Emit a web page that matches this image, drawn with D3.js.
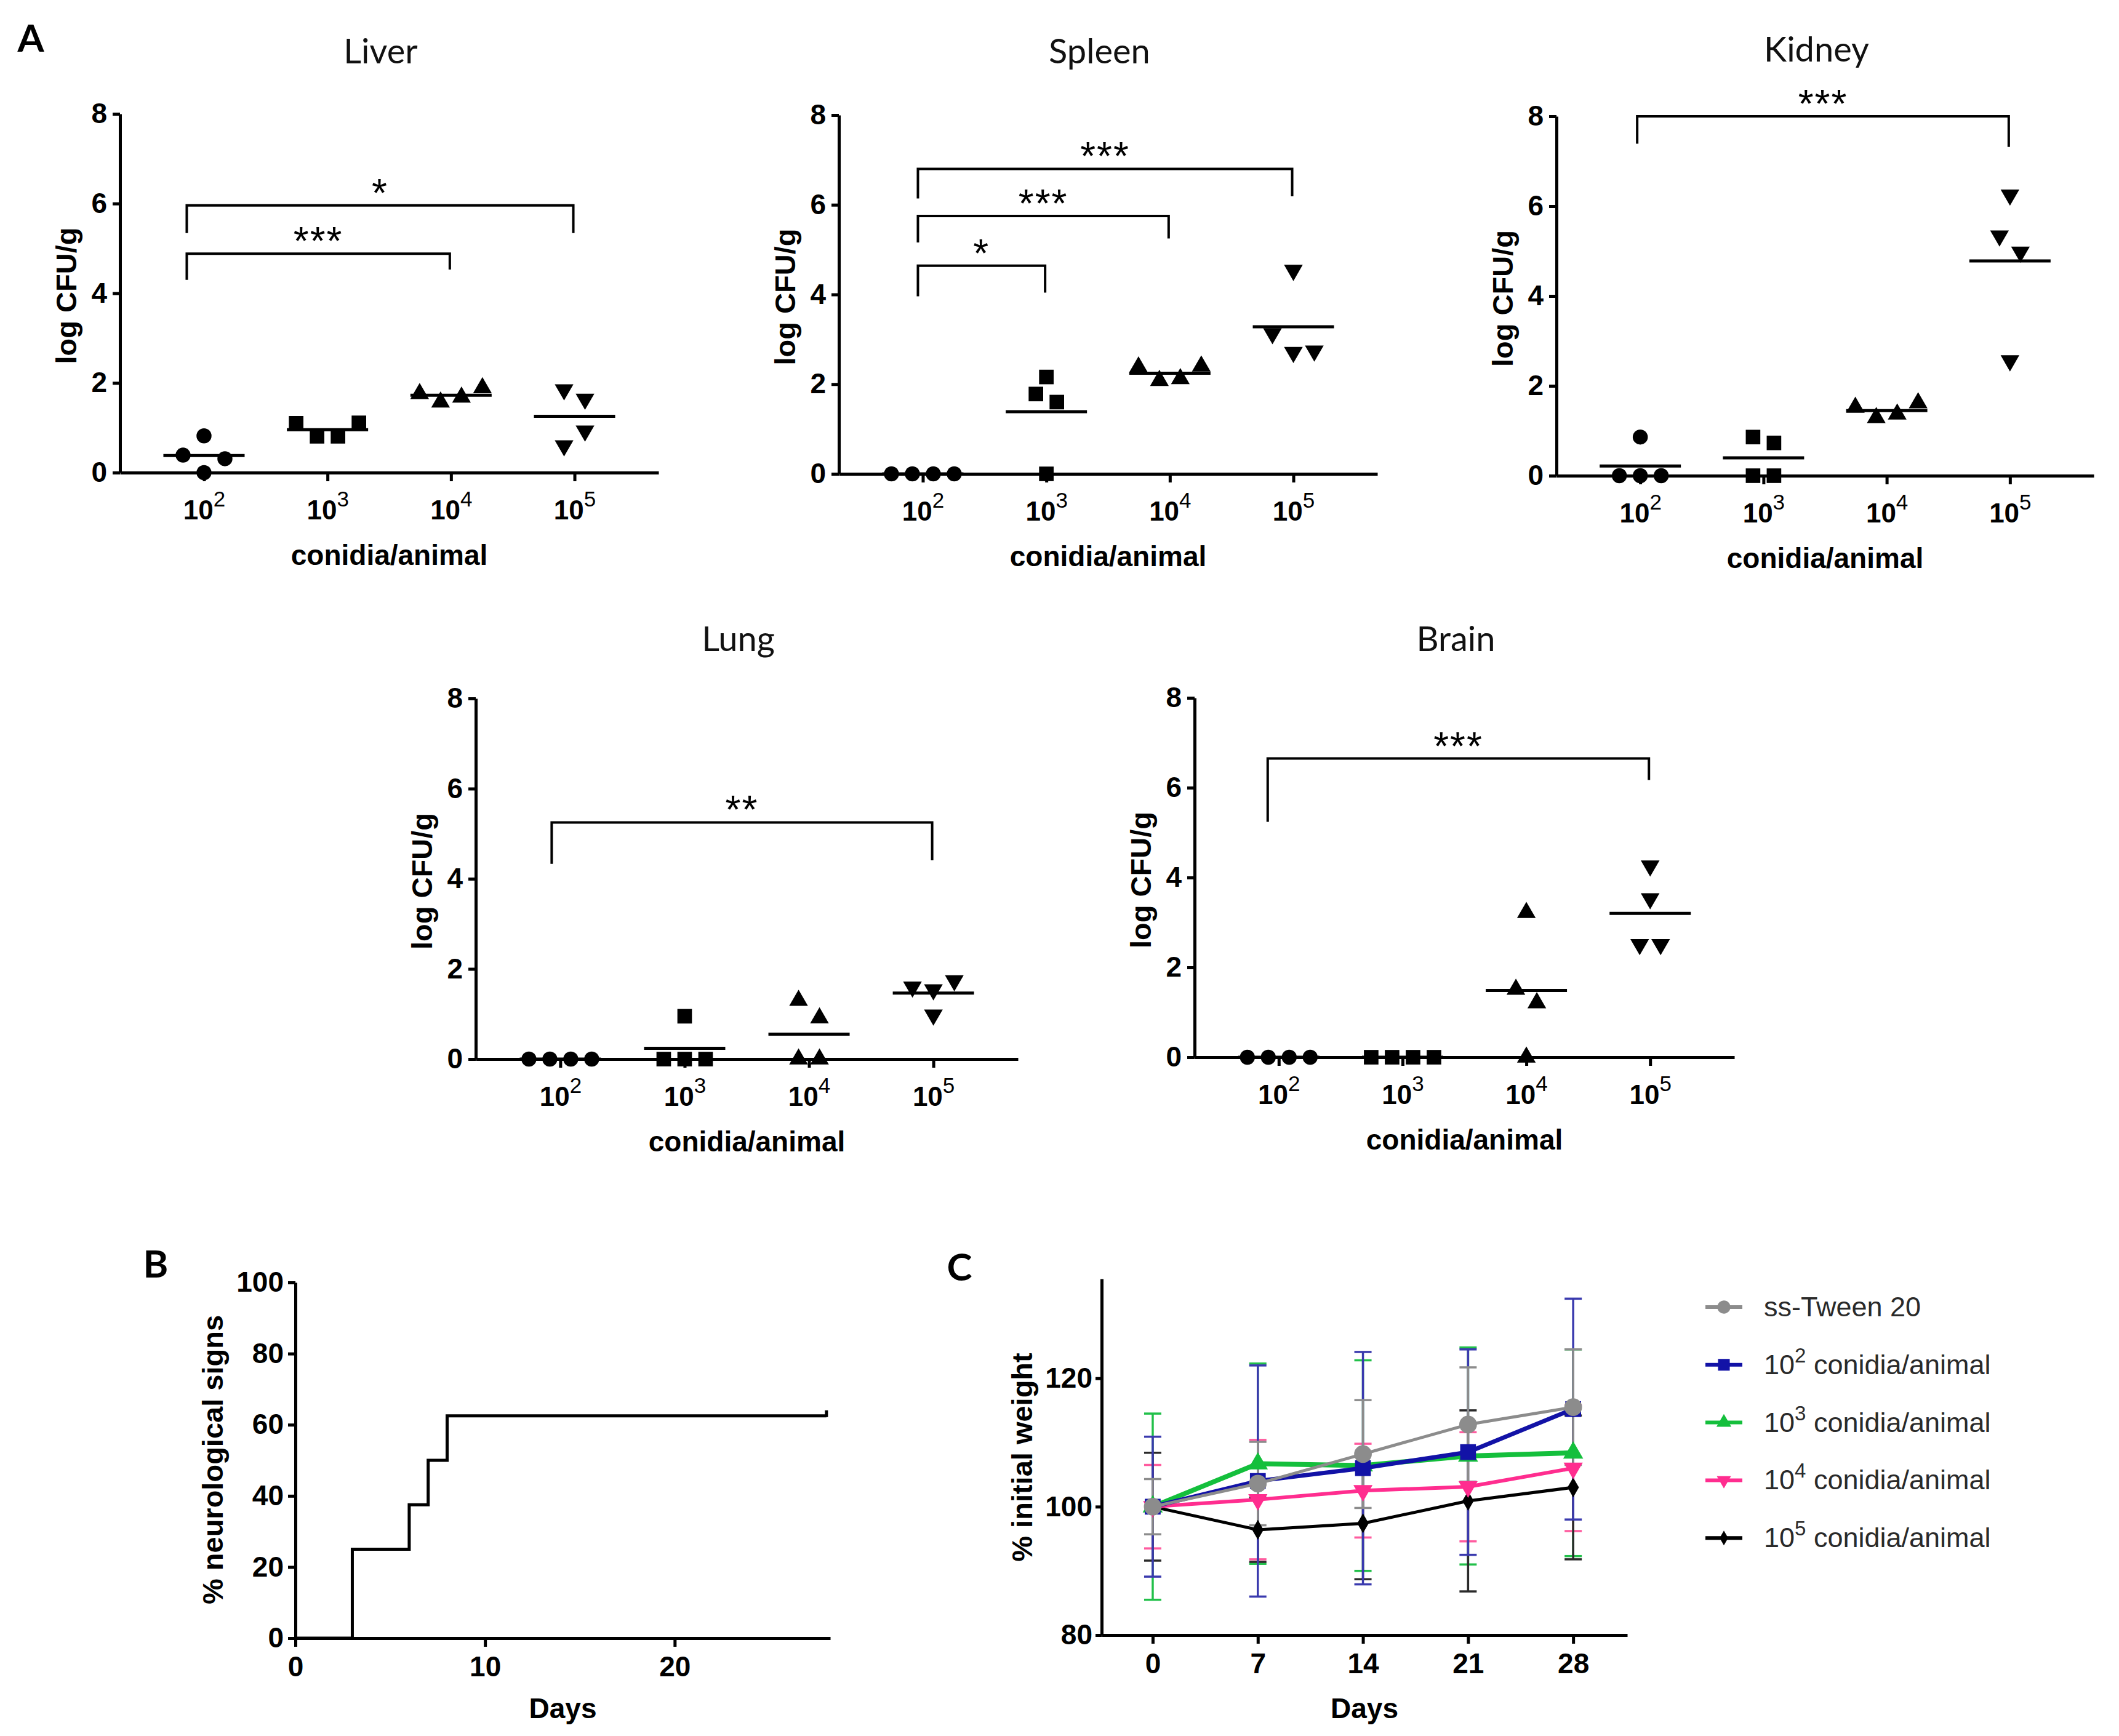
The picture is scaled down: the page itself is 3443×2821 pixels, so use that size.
<!DOCTYPE html>
<html><head><meta charset="utf-8">
<script src="https://cdn.jsdelivr.net/npm/d3@7"></script>
<style>
html,body{margin:0;padding:0;background:#fff;}
svg{display:block;}
</style></head>
<body>
<svg id="fig" width="3443" height="2821"></svg>
<script>
// ================= DATA =================
const doseExponents = [2, 3, 4, 5];
const cfuTicks = [0, 2, 4, 6, 8];
const organTitles = ["Liver", "Spleen", "Kidney", "Lung", "Brain"];

// log CFU/g per animal, one inner array per dose group (10^2 .. 10^5)
const liverValues  = [[0.82, 0.39, 0.31, 0.00], [1.10, 0.81, 0.81, 1.11], [1.76, 1.57, 1.68, 1.89], [1.85, 1.64, 0.93, 0.60]];
const spleenValues = [[0, 0, 0, 0], [1.78, 2.16, 1.60, 0.00], [2.38, 2.08, 2.12, 2.40], [4.54, 3.13, 2.71, 2.74]];
const kidneyValues = [[0.86, 0, 0, 0], [0.86, 0.73, 0, 0], [1.52, 1.29, 1.37, 1.62], [6.25, 5.34, 4.98, 2.56]];
const lungValues   = [[0, 0, 0, 0], [0.95, 0, 0, 0], [1.30, 0.91, 0, 0], [1.60, 1.54, 1.74, 0.98]];
const brainValues  = [[0, 0, 0, 0], [0, 0, 0, 0], [3.22, 1.51, 1.21, 0], [4.26, 3.53, 2.51, 2.51]];

// column-scatter dodge slot of each point (in marker widths)
const liverSlots  = [[0, -1, 1, 0], [-1.5, -0.5, 0.5, 1.5], [-1.5, -0.5, 0.5, 1.5], [-0.5, 0.5, 0.5, -0.5]];
const spleenSlots = [[-1.5, -0.5, 0.5, 1.5], [-0.5, 0, 0.5, 0], [-1.5, -0.5, 0.5, 1.5], [0, -1, 0, 1]];
const kidneySlots = [[0, -1, 0, 1], [-0.5, 0.5, -0.5, 0.5], [-1.5, -0.5, 0.5, 1.5], [0, -0.5, 0.5, 0]];
const lungSlots   = [[-1.5, -0.5, 0.5, 1.5], [0, -1, 0, 1], [-0.5, 0.5, -0.5, 0.5], [-1, 0, 1, 0]];
const brainSlots  = [[-1.5, -0.5, 0.5, 1.5], [-1.5, -0.5, 0.5, 1.5], [0, -0.5, 0.5, 0], [0, 0, -0.5, 0.5]];

// significance brackets: group indices, bracket level, leg ends (log CFU/g units), label
const liverSig  = [{from: 0, to: 3, level: 5.96, legFrom: 5.34, legTo: 5.34, label: "*"},
                   {from: 0, to: 2, level: 4.88, legFrom: 4.30, legTo: 4.53, label: "***"}];
const spleenSig = [{from: 0, to: 1, level: 4.64, legFrom: 3.96, legTo: 4.04, label: "*"},
                   {from: 0, to: 2, level: 5.75, legFrom: 5.16, legTo: 5.25, label: "***"},
                   {from: 0, to: 3, level: 6.80, legFrom: 6.14, legTo: 6.19, label: "***"}];
const kidneySig = [{from: 0, to: 3, level: 8.00, legFrom: 7.39, legTo: 7.32, label: "***"}];
const lungSig   = [{from: 0, to: 3, level: 5.25, legFrom: 4.33, legTo: 4.41, label: "**"}];
const brainSig  = [{from: 0, to: 3, level: 6.65, legFrom: 5.24, legTo: 6.17, label: "***"}];

// Panel B: cumulative % with neurological signs
const neuroDays = [0, 3, 6, 7, 8, 28];
const neuroPercent = [0, 25, 37.5, 50, 62.5, 62.5];
const neuroYTicks = [0, 20, 40, 60, 80, 100];
const neuroXTicks = [0, 10, 20];

// Panel C: % initial weight (mean, SD)
const weightDays = [0, 7, 14, 21, 28];
const weightYTicks = [80, 100, 120];
const legendLabels = ["ss-Tween 20", "10^2 conidia/animal", "10^3 conidia/animal", "10^4 conidia/animal", "10^5 conidia/animal"];
const tweenMean = [100, 103.6, 108.2, 112.8, 115.5];
const tweenSD   = [4.3, 6.5, 8.4, 8.9, 9.0];
const dose2Mean = [100, 104.0, 106.0, 108.5, 115.2];
const dose2SD   = [10.9, 18.0, 18.1, 16.0, 17.2];
const dose3Mean = [100, 106.7, 106.4, 107.9, 108.4];
const dose3SD   = [14.5, 15.6, 16.4, 16.9, 16.1];
const dose4Mean = [100, 101.1, 102.5, 103.1, 106.0];
const dose4SD   = [6.5, 9.3, 7.3, 8.5, 9.8];
const dose5Mean = [100, 96.4, 97.4, 100.9, 103.0];
const dose5SD   = [8.4, 5.0, 8.7, 14.1, 11.2];

// ================= DRAWING =================
const svg = d3.select("#fig");
const F_ARIAL = "'Liberation Sans', Arial, Helvetica, sans-serif";
const F_CAL = "Lato, 'Open Sans', sans-serif";

function styleAxis(g, fs) {
  g.select(".domain").attr("stroke", "#000").attr("stroke-width", 5);
  g.selectAll(".tick line").attr("stroke", "#000").attr("stroke-width", 5);
  g.selectAll(".tick text").attr("font-family", F_ARIAL).attr("font-weight", "bold")
    .attr("font-size", fs || 46).attr("fill", "#000");
}

function addSupLabel(textSel, base, sup, rest, supSize, supShift, supWeight) {
  textSel.append("tspan").text(base);
  textSel.append("tspan").attr("dy", -supShift).attr("font-size", supSize)
    .attr("font-weight", supWeight || "normal").text(sup);
  if (rest) textSel.append("tspan").attr("dy", supShift).text(rest);
}

function panelLetter(t, x, y) {
  svg.append("text").attr("x", x).attr("y", y).attr("text-anchor", "middle")
    .attr("dominant-baseline", "central").attr("font-family", F_CAL)
    .attr("font-weight", "bold").attr("font-size", 62).attr("fill", "#000").text(t);
}

function yLabel(t, x, y) {
  svg.append("text").attr("transform", `translate(${x},${y}) rotate(-90)`)
    .attr("text-anchor", "middle").attr("dominant-baseline", "central")
    .attr("font-family", F_ARIAL).attr("font-weight", "bold").attr("font-size", 47)
    .attr("fill", "#000").text(t);
}
function xLabel(t, x, y) {
  svg.append("text").attr("x", x).attr("y", y)
    .attr("text-anchor", "middle").attr("dominant-baseline", "central")
    .attr("font-family", F_ARIAL).attr("font-weight", "bold").attr("font-size", 46)
    .attr("fill", "#000").text(t);
}

// ---------- Panel A ----------
const groupShapes = [
  {type: d3.symbolCircle, size: 470, rot: 0},
  {type: d3.symbolSquare, size: 560, rot: 0},
  {type: d3.symbolTriangle, size: 400, rot: 0},
  {type: d3.symbolTriangle, size: 400, rot: 180}
];

const organs = [
  {title: organTitles[0], values: liverValues,  slots: liverSlots,  sig: liverSig,  frame: {x: 195,  y: 185,  w: 875, h: 583}, titleY: 81,   bl: -28},
  {title: organTitles[1], values: spleenValues, slots: spleenSlots, sig: spleenSig, frame: {x: 1363, y: 187,  w: 875, h: 583}, titleY: 81,   bl: -8},
  {title: organTitles[2], values: kidneyValues, slots: kidneySlots, sig: kidneySig, frame: {x: 2529, y: 189,  w: 873, h: 584}, titleY: 78,   bl: -5},
  {title: organTitles[3], values: lungValues,   slots: lungSlots,   sig: lungSig,   frame: {x: 773,  y: 1135, w: 881, h: 586}, titleY: 1036, bl: -14},
  {title: organTitles[4], values: brainValues,  slots: brainSlots,  sig: brainSig,  frame: {x: 1941, y: 1134, w: 877, h: 584}, titleY: 1036, bl: -18}
];

organs.forEach(cfg => {
  const f = cfg.frame;
  const x = d3.scalePoint().domain(doseExponents).range([f.x, f.x + f.w]).padding(0.68);
  const y = d3.scaleLinear().domain([0, 8]).range([f.y + f.h, f.y]);
  const dodge = d3.scaleLinear().domain([0, 1]).range([0, 34]);
  const g = svg.append("g");

  // title
  g.append("text").attr("x", f.x + f.w / 2 - 14).attr("y", cfg.titleY)
    .attr("text-anchor", "middle").attr("dominant-baseline", "central")
    .attr("font-family", F_CAL).attr("font-size", 56).attr("fill", "#111").text(cfg.title);

  // axes
  const gy = g.append("g").attr("transform", `translate(${f.x},0)`)
    .call(d3.axisLeft(y).tickValues(cfuTicks).tickSize(12).tickSizeOuter(0).tickPadding(9));
  styleAxis(gy, 46);
  const gx = g.append("g").attr("transform", `translate(0,${f.y + f.h})`)
    .call(d3.axisBottom(x).tickSize(14).tickSizeOuter(0).tickPadding(31).tickFormat(() => ""));
  styleAxis(gx, 44);
  gx.selectAll(".tick text").each(function (d) {
    addSupLabel(d3.select(this), "10", d, null, 35, 21, "normal");
  });

  yLabel("log CFU/g", f.x - 88, f.y + f.h / 2 + 4);
  xLabel("conidia/animal", f.x + f.w / 2, f.y + f.h + 134);

  // significance brackets
  cfg.sig.forEach(s => {
    const xl = x(doseExponents[s.from]) + cfg.bl, xr = x(doseExponents[s.to]) - 2;
    g.append("path")
      .attr("d", `M${xl},${y(s.legFrom)}V${y(s.level)}H${xr}V${y(s.legTo)}`)
      .attr("fill", "none").attr("stroke", "#000").attr("stroke-width", 4);
    g.append("text").attr("x", (xl + xr) / 2).attr("y", y(s.level) + 2)
      .attr("text-anchor", "middle").attr("font-family", F_ARIAL)
      .attr("font-size", 64).attr("letter-spacing", 2).attr("fill", "#000").text(s.label);
  });

  // points + mean lines
  cfg.values.forEach((vals, gi) => {
    const exp = doseExponents[gi];
    const shp = groupShapes[gi];
    const sym = d3.symbol().type(shp.type).size(shp.size);
    g.append("g").selectAll("path")
      .data(vals.map((v, i) => ({v, s: cfg.slots[gi][i]})))
      .join("path")
      .attr("d", sym)
      .attr("transform", d => `translate(${x(exp) + dodge(d.s)},${y(d.v)}) rotate(${shp.rot})`)
      .attr("fill", "#000");
    const m = d3.mean(vals);
    g.append("line").attr("x1", x(exp) - 66).attr("x2", x(exp) + 66)
      .attr("y1", y(m)).attr("y2", y(m)).attr("stroke", "#000").attr("stroke-width", 5);
  });
});

panelLetter("A", 50, 60);

// ---------- Panel B ----------
{
  const x = d3.scaleLinear().domain([0, 28.2]).range([480, 1349]);
  const y = d3.scaleLinear().domain([0, 100]).range([2662, 2084]);
  const g = svg.append("g");
  const gy = g.append("g").attr("transform", `translate(${x(0)},0)`)
    .call(d3.axisLeft(y).tickValues(neuroYTicks).tickSize(12).tickSizeOuter(0).tickPadding(7));
  styleAxis(gy, 46);
  const gx = g.append("g").attr("transform", `translate(0,${y(0)})`)
    .call(d3.axisBottom(x).tickValues(neuroXTicks).tickSize(14).tickSizeOuter(0).tickPadding(15));
  styleAxis(gx, 46);

  const line = d3.line().x((d, i) => x(neuroDays[i])).y(d => y(d)).curve(d3.curveStepAfter);
  g.append("path").attr("d", line(neuroPercent)).attr("fill", "none")
    .attr("stroke", "#000").attr("stroke-width", 5);
  // censored tick at the end of follow-up
  const last = neuroDays.length - 1;
  g.append("line").attr("x1", x(neuroDays[last])).attr("x2", x(neuroDays[last]))
    .attr("y1", y(neuroPercent[last]) + 2).attr("y2", y(neuroPercent[last]) - 9)
    .attr("stroke", "#000").attr("stroke-width", 5);

  yLabel("% neurological signs", 345, 2372);
  xLabel("Days", (480 + 1349) / 2, 2776);
  panelLetter("B", 253, 2052);
}

// ---------- Panel C ----------
{
  const x = d3.scaleLinear().domain([-3.4, 31.6]).range([1790, 2644]);
  const y = d3.scaleLinear().domain([80, 135.5]).range([2657, 2078]);
  const g = svg.append("g");
  const gy = g.append("g").attr("transform", `translate(${x(-3.4)},0)`)
    .call(d3.axisLeft(y).tickValues(weightYTicks).tickSize(10).tickSizeOuter(0).tickPadding(5));
  styleAxis(gy, 46);
  const gx = g.append("g").attr("transform", `translate(0,${y(80)})`)
    .call(d3.axisBottom(x).tickValues(weightDays).tickSize(14).tickSizeOuter(0).tickPadding(15));
  styleAxis(gx, 46);

  const series = [
    {label: legendLabels[0], mean: tweenMean, sd: tweenSD, color: "#8c8c8c", err: "#8c8c8c", sym: d3.symbolCircle,   size: 650, rot: 0,  w: 5},
    {label: legendLabels[1], mean: dose2Mean, sd: dose2SD, color: "#1212a6", err: "#3a3aae", sym: d3.symbolSquare,   size: 660, rot: 0,  w: 7},
    {label: legendLabels[2], mean: dose3Mean, sd: dose3SD, color: "#14bf3c", err: "#22c04a", sym: d3.symbolTriangle, size: 460, rot: 0,  w: 8},
    {label: legendLabels[3], mean: dose4Mean, sd: dose4SD, color: "#ff2d8f", err: "#ff5c9f", sym: d3.symbolTriangle, size: 420, rot: 180, w: 6},
    {label: legendLabels[4], mean: dose5Mean, sd: dose5SD, color: "#000000", err: "#2a2a2a", sym: d3.symbolDiamond,  size: 300, rot: 0,  w: 5}
  ];
  const errOrder = [2, 3, 4, 1, 0];
  const lineOrder = [4, 3, 2, 1, 0];

  errOrder.forEach(si => {
    const s = series[si];
    const eg = g.append("g").attr("stroke", s.err).attr("stroke-width", 3.5);
    weightDays.forEach((d, i) => {
      const cx = x(d), hi = y(s.mean[i] + s.sd[i]), lo = y(s.mean[i] - s.sd[i]);
      eg.append("line").attr("x1", cx).attr("x2", cx).attr("y1", hi).attr("y2", lo);
      eg.append("line").attr("x1", cx - 14).attr("x2", cx + 14).attr("y1", hi).attr("y2", hi);
      eg.append("line").attr("x1", cx - 14).attr("x2", cx + 14).attr("y1", lo).attr("y2", lo);
    });
  });
  const line = d3.line().x((d, i) => x(weightDays[i])).y(d => y(d));
  lineOrder.forEach(si => {
    const s = series[si];
    g.append("path").attr("d", line(s.mean)).attr("fill", "none")
      .attr("stroke", s.color).attr("stroke-width", s.w).attr("stroke-linejoin", "round");
    g.append("g").selectAll("path").data(s.mean).join("path")
      .attr("d", d3.symbol().type(s.sym).size(s.size))
      .attr("transform", (d, i) => `translate(${x(weightDays[i])},${y(d)}) rotate(${s.rot})`)
      .attr("fill", s.color);
  });

  yLabel("% initial weight", 1660, 2368);
  xLabel("Days", (1790 + 2644) / 2, 2776);
  panelLetter("C", 1559, 2057);

  // legend
  const lg = svg.append("g");
  series.forEach((s, i) => {
    const ly = 2124 + i * 93.8;
    lg.append("line").attr("x1", 2771).attr("x2", 2831).attr("y1", ly).attr("y2", ly)
      .attr("stroke", s.color).attr("stroke-width", 6);
    lg.append("path").attr("d", d3.symbol().type(s.sym).size(s.size * 0.55))
      .attr("transform", `translate(2801,${ly}) rotate(${s.rot})`).attr("fill", s.color);
    const t = lg.append("text").attr("x", 2866).attr("y", ly + 15)
      .attr("font-family", F_ARIAL).attr("font-size", 45).attr("fill", "#2a2a2a");
    const m = s.label.match(/^(\d+)\^(\d+)(.*)$/);
    if (m) addSupLabel(t, m[1], m[2], m[3], 33, 19, "normal");
    else t.text(s.label);
  });
}
</script>
</body></html>
